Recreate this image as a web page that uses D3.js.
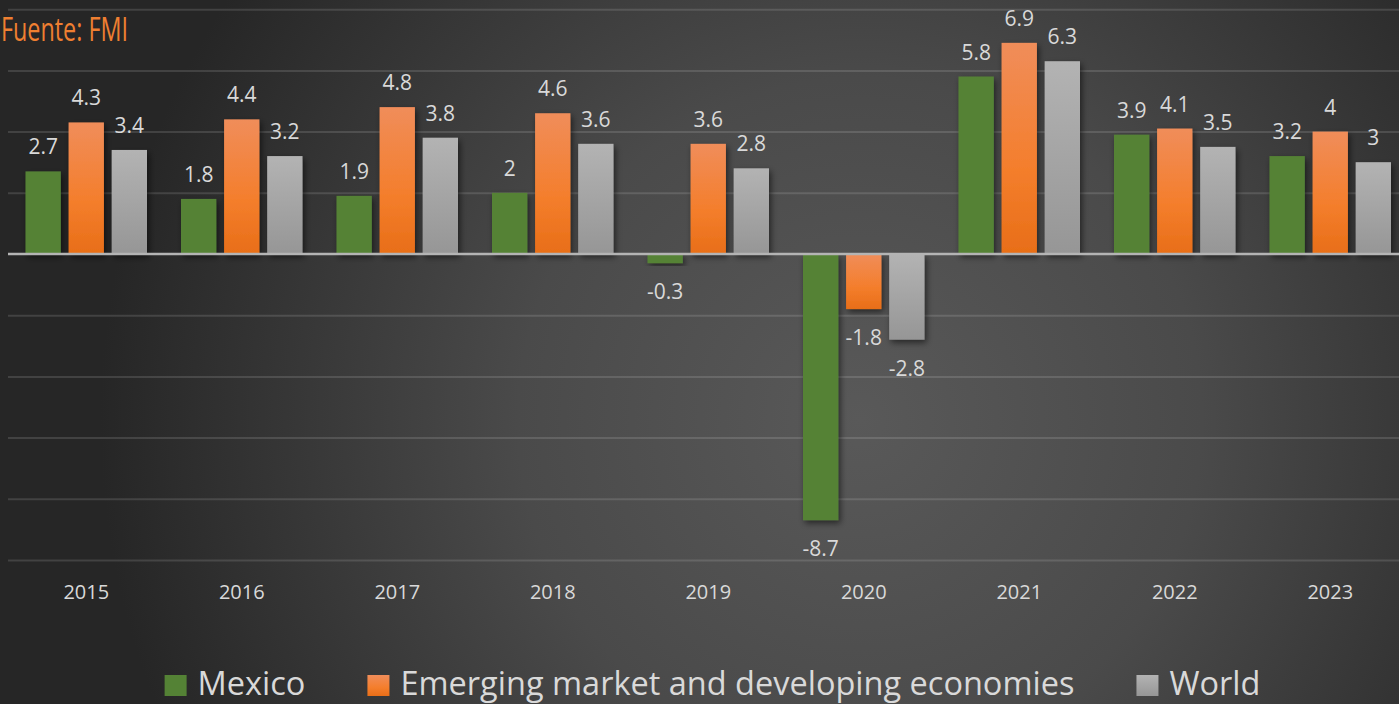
<!DOCTYPE html>
<html>
<head>
<meta charset="utf-8">
<script src="https://cdn.jsdelivr.net/npm/d3@7/dist/d3.min.js"></script>
<style>
  html, body { margin: 0; padding: 0; background: #2b2b2b; }
  svg { display: block; }
</style>
</head>
<body>
<svg id="chart" width="1399" height="704"></svg>
<script>
// ---- data ----
const years = ["2015", "2016", "2017", "2018", "2019", "2020", "2021", "2022", "2023"];
const seriesNames = ["Mexico", "Emerging market and developing economies", "World"];
const mexico = [2.7, 1.8, 1.9, 2, -0.3, -8.7, 5.8, 3.9, 3.2];
const emde = [4.3, 4.4, 4.8, 4.6, 3.6, -1.8, 6.9, 4.1, 4];
const world = [3.4, 3.2, 3.8, 3.6, 2.8, -2.8, 6.3, 3.5, 3];
const yTicks = [-10, -8, -6, -4, -2, 0, 2, 4, 6, 8];
const sourceText = "Fuente: FMI";

const seriesValues = [mexico, emde, world];
const W = 1399, H = 704;
const svg = d3.select("#chart");
const defs = svg.append("defs");

// background radial gradient
const bg = defs.append("radialGradient").attr("id", "bg")
  .attr("gradientUnits", "userSpaceOnUse")
  .attr("cx", 860).attr("cy", 420).attr("r", 760);
bg.append("stop").attr("offset", "0%").attr("stop-color", "#595959");
bg.append("stop").attr("offset", "45%").attr("stop-color", "#4a4a4a");
bg.append("stop").attr("offset", "100%").attr("stop-color", "#262626");
svg.append("rect").attr("width", W).attr("height", H).attr("fill", "url(#bg)");

// bar fills
const gO = defs.append("linearGradient").attr("id", "gOrange").attr("x1", 0).attr("y1", 0).attr("x2", 0).attr("y2", 1);
gO.append("stop").attr("offset", "0%").attr("stop-color", "#f08d5a");
gO.append("stop").attr("offset", "60%").attr("stop-color", "#f47e2c");
gO.append("stop").attr("offset", "100%").attr("stop-color", "#e86e18");
const gG = defs.append("linearGradient").attr("id", "gGray").attr("x1", 0).attr("y1", 0).attr("x2", 0).attr("y2", 1);
gG.append("stop").attr("offset", "0%").attr("stop-color", "#b3b3b3");
gG.append("stop").attr("offset", "100%").attr("stop-color", "#969696");
const fills = ["#548235", "url(#gOrange)", "url(#gGray)"];
const legendFills = ["#548235", "url(#gOrange)", "url(#gGray)"];

const shadow = defs.append("filter").attr("id", "shadow")
  .attr("x", "-30%").attr("y", "-10%").attr("width", "170%").attr("height", "130%");
shadow.append("feDropShadow").attr("dx", 2).attr("dy", 3).attr("stdDeviation", 3)
  .attr("flood-color", "#000").attr("flood-opacity", 0.55);

// scales
const x0 = d3.scaleBand().domain(years).range([8.5, 1408]).padding(0);
const x1 = d3.scaleBand().domain(seriesNames).range([17, x0.bandwidth() - 17]).paddingInner(0.18).paddingOuter(0);
const y = d3.scaleLinear().domain([-10, 8]).range([560, 9.2]);

// gridlines
const grid = svg.append("g")
  .call(d3.axisLeft(y).tickValues(yTicks).tickSize(-(W - 8)).tickFormat(""))
  .attr("transform", `translate(${W},0)`);
grid.select(".domain").remove();
grid.selectAll(".tick line")
  .attr("x1", 8 - W).attr("x2", 0)
  .attr("stroke", "#ffffff").attr("stroke-opacity", 0.13).attr("stroke-width", 2);
grid.selectAll(".tick").filter(d => d === 0).remove();

// bars
const groups = svg.append("g").selectAll("g").data(years).join("g")
  .attr("transform", d => `translate(${x0(d)},0)`);
groups.selectAll("rect")
  .data((d, i) => seriesNames.map((s, k) => ({ s, k, v: seriesValues[k][i] })))
  .join("rect")
  .attr("x", d => x1(d.s))
  .attr("width", x1.bandwidth())
  .attr("y", d => y(Math.max(0, d.v)))
  .attr("height", d => Math.abs(y(d.v) - y(0)))
  .attr("fill", d => fills[d.k])
  .attr("filter", "url(#shadow)");

// zero line
svg.append("line")
  .attr("x1", 8).attr("x2", W)
  .attr("y1", y(0)).attr("y2", y(0))
  .attr("stroke", "#b4b4b4").attr("stroke-width", 2.5);

// data labels
groups.selectAll("text.lbl")
  .data((d, i) => seriesNames.map((s, k) => ({ s, k, v: seriesValues[k][i] })))
  .join("text")
  .attr("class", "lbl")
  .attr("x", d => x1(d.s) + x1.bandwidth() / 2)
  .attr("y", d => d.v >= 0 ? y(d.v) - 17 : y(d.v) + 36)
  .attr("text-anchor", "middle")
  .attr("font-family", "'Open Sans', sans-serif")
  .attr("font-size", 21)
  .attr("fill", "#d9d9d9")
  .text(d => String(d.v));

// x axis labels
const xAxis = svg.append("g")
  .attr("transform", `translate(0,${y(-10)})`)
  .call(d3.axisBottom(x0).tickSize(0).tickPadding(0));
xAxis.select(".domain").remove();
xAxis.selectAll("text")
  .attr("y", 39)
  .attr("dy", null)
  .attr("font-family", "'Open Sans', sans-serif")
  .attr("font-size", 20)
  .attr("fill", "#d9d9d9");

// source text
svg.append("text")
  .attr("x", 1).attr("y", 41)
  .attr("font-family", "'Open Sans', sans-serif")
  .attr("font-size", 32)
  .attr("textLength", 127)
  .attr("lengthAdjust", "spacingAndGlyphs")
  .attr("fill", "#ef7f31")
  .text(sourceText);

// legend
const legend = svg.append("g");
const items = legend.selectAll("g").data(seriesNames).join("g");
items.append("rect")
  .attr("width", 22).attr("height", 21).attr("y", 675)
  .attr("fill", (d, i) => legendFills[i]);
items.append("text")
  .attr("x", 33).attr("y", 695)
  .attr("font-family", "'Open Sans', sans-serif")
  .attr("font-size", 32.5)
  .attr("fill", "#d9d9d9")
  .text(d => d);
const widths = [];
items.each(function () { widths.push(33 + this.querySelector("text").getComputedTextLength()); });
const gap = 62;
const total = d3.sum(widths) + gap * (widths.length - 1);
let cx = 712.5 - total / 2;
items.attr("transform", (d, i) => {
  const t = `translate(${cx},0)`;
  cx += widths[i] + gap;
  return t;
});
</script>
</body>
</html>
